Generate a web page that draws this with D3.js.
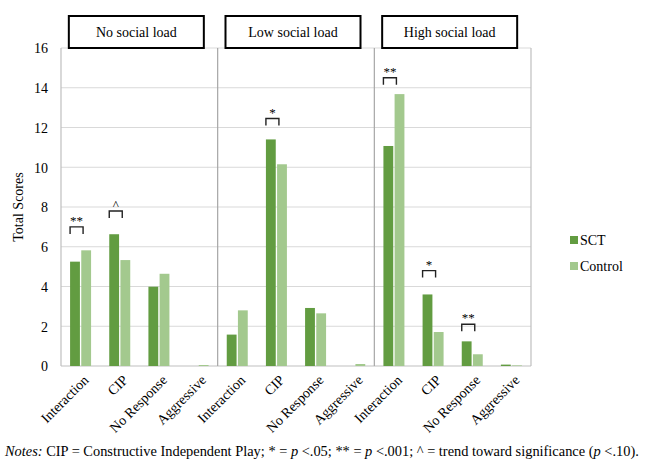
<!DOCTYPE html>
<html><head><meta charset="utf-8">
<script src="https://cdn.jsdelivr.net/npm/d3@7"></script>
<style>
body{margin:0;background:#fff;}
svg text{font-family:"Liberation Serif","Tinos","Times New Roman","DejaVu Serif",serif !important;fill:#000;}
</style></head>
<body><svg id="c" width="646" height="466" font-family="Liberation Serif"></svg>
<script>
const panels = ["No social load","Low social load","High social load"];
const categories = ["Interaction","CIP","No Response","Aggressive"];
const series = ["SCT","Control"];
const sctValues = [[5.25,6.63,3.99,0],[1.58,11.4,2.92,0],[11.07,3.6,1.24,0.07]];
const controlValues = [[5.82,5.33,4.64,0.05],[2.8,10.15,2.65,0.1],[13.68,1.71,0.59,0.03]];
const yTicks = [0,2,4,6,8,10,12,14,16];
// significance annotations: panel, category, bracket height (data units), mark
const sigPanel = [0,0,1,2,2,2];
const sigCat = [0,1,1,0,1,2];
const sigY = [7,7.8,12.45,14.5,4.8,2.1];
const sigMark = ["**","^","*","**","*","**"];
const noteText = " CIP = Constructive Independent Play; * = ";

const colors = {SCT:"#629c41", Control:"#a3c98e"};
const svg = d3.select("#c");
const L=61, R=531, T=48, B=366;
const y = d3.scaleLinear().domain([0,16]).range([B,T]);
const xp = d3.scaleBand().domain(panels).range([L,R]).padding(0);
const xc = d3.scaleBand().domain(categories).range([0,xp.bandwidth()]).padding(0);
const xs = d3.scaleBand().domain(series).range([xc.bandwidth()/2-10.5, xc.bandwidth()/2+10.5]).paddingInner(0.12);

// gridlines
svg.append("g").selectAll("line").data(yTicks).join("line")
  .attr("x1",L).attr("x2",R).attr("y1",d=>y(d)).attr("y2",d=>y(d))
  .attr("stroke",d=>d===0?"#bfbfbf":"#d9d9d9").attr("stroke-width",1.2);
// frame
svg.append("line").attr("x1",L).attr("x2",L).attr("y1",T).attr("y2",B).attr("stroke","#bfbfbf").attr("stroke-width",1.2);
svg.append("line").attr("x1",R).attr("x2",R).attr("y1",T).attr("y2",B).attr("stroke","#bfbfbf").attr("stroke-width",1.2);
panels.slice(1).forEach(p=>{
  svg.append("line").attr("x1",xp(p)).attr("x2",xp(p)).attr("y1",T).attr("y2",B).attr("stroke","#a6a6a6").attr("stroke-width",1.2);
});

// y axis
const yAxis = d3.axisLeft(y).tickValues(yTicks).tickSize(0).tickPadding(13);
const ga = svg.append("g").attr("transform",`translate(${L},0)`).call(yAxis);
ga.attr("font-family",null);
ga.select(".domain").remove();
ga.selectAll("text").style("font-size","14px").attr("dy","0.35em");
svg.append("text").attr("transform",`translate(23,${(T+B)/2}) rotate(-90)`).attr("text-anchor","middle")
  .style("font-size","14px").text("Total Scores");

// bars
panels.forEach((p,pi)=>{
  const g = svg.append("g").attr("transform",`translate(${xp(p)},0)`);
  categories.forEach((c,ci)=>{
    const vals = [sctValues[pi][ci], controlValues[pi][ci]];
    series.forEach((s,si)=>{
      g.append("rect").attr("x",xc(c)+xs(s)).attr("width",xs.bandwidth())
        .attr("y",y(vals[si])).attr("height",B-y(vals[si])).attr("fill",colors[s]);
    });
    // x labels
    g.append("text").attr("transform",`translate(${xc(c)+xc.bandwidth()/2+2},${B+8}) rotate(-45)`)
      .attr("text-anchor","end").attr("dy","0.7em").style("font-size","14px").text(c);
  });
  // panel title boxes
  const bw = 135, cx = xp(p)+xp.bandwidth()/2 - 3;
  svg.append("rect").attr("x",cx-bw/2).attr("y",16).attr("width",bw).attr("height",32)
    .attr("fill","#fff").attr("stroke","#000").attr("stroke-width",2);
  svg.append("text").attr("x",cx).attr("y",37).attr("text-anchor","middle").style("font-size","14px").text(p);
});

// significance brackets
sigMark.forEach((m,i)=>{
  const p = panels[sigPanel[i]], c = categories[sigCat[i]];
  const x0 = xp(p)+xc(c)+xs("SCT");
  const x1 = x0+13;
  const yy = y(sigY[i]);
  svg.append("path").attr("d",`M${x0},${yy+7}V${yy}H${x1}V${yy+7}`).attr("fill","none").attr("stroke","#222").attr("stroke-width",1.4);
  svg.append("text").attr("x",(x0+x1)/2).attr("y",yy-(m==="^"?2:2)).attr("text-anchor","middle").style("font-size","13px").text(m);
});

// legend
series.forEach((s,i)=>{
  const ly = 236 + i*26;
  svg.append("rect").attr("x",570).attr("y",ly).attr("width",8).attr("height",8).attr("fill",colors[s]);
  svg.append("text").attr("x",580).attr("y",ly+8.5).style("font-size","14px").text(s);
});

// notes
const nt = svg.append("text").attr("x",5).attr("y",456).style("font-size","14.4px");
nt.append("tspan").style("font-style","italic").text("Notes:");
nt.append("tspan").text(noteText);
nt.append("tspan").style("font-style","italic").text("p");
nt.append("tspan").text(" <.05; ** = ");
nt.append("tspan").style("font-style","italic").text("p");
nt.append("tspan").text(" <.001; ^ = trend toward significance (");
nt.append("tspan").style("font-style","italic").text("p");
nt.append("tspan").text(" <.10).");
</script></body></html>
